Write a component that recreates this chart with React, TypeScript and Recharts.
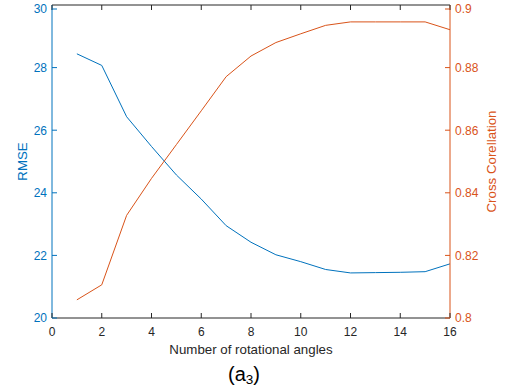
import React from 'react';
import { LineChart, Line, XAxis, YAxis, Label } from 'recharts';

const angles = [1, 2, 3, 4, 5, 6, 7, 8, 9, 10, 11, 12, 13, 14, 15, 16];
const rmse = [28.44, 28.07, 26.43, 25.48, 24.57, 23.8, 22.95, 22.42, 22.02, 21.8, 21.55, 21.44, 21.45, 21.46, 21.48, 21.73];
const crossCorr = [0.8058, 0.8106, 0.8328, 0.8446, 0.8554, 0.8662, 0.8771, 0.8837, 0.888, 0.8908, 0.8935, 0.8946, 0.8946, 0.8946, 0.8946, 0.8921];
const xTicks = [0, 2, 4, 6, 8, 10, 12, 14, 16];
const leftTicks = [20, 22, 24, 26, 28, 30];
const rightTicks = [0.8, 0.82, 0.84, 0.86, 0.88, 0.9];

const data = angles.map((a, i) => ({ a, rmse: rmse[i], cc: crossCorr[i] }));

const BLUE = '#0072BD';
const ORANGE = '#D95319';
const DARK = '#262626';
const FONT = '"Liberation Sans", Arial, Helvetica, sans-serif';

const LeftTick = (p: any) => (
  <g>
    <line x1={p.x} y1={p.y} x2={p.x + 5} y2={p.y} stroke={BLUE} strokeWidth={1} />
    <text x={p.x - 5} y={p.y} dy="0.36em" textAnchor="end" fill={BLUE} fontSize={12} fontFamily={FONT}>
      {p.payload.value}
    </text>
  </g>
);

const RightTick = (p: any) => (
  <g>
    <line x1={p.x} y1={p.y} x2={p.x - 5} y2={p.y} stroke={ORANGE} strokeWidth={1} />
    <text x={p.x + 5} y={p.y} dy="0.36em" textAnchor="start" fill={ORANGE} fontSize={12} fontFamily={FONT}>
      {String(p.payload.value)}
    </text>
  </g>
);

const BottomTick = (p: any) => (
  <g>
    <line x1={p.x} y1={p.y} x2={p.x} y2={p.y - 5} stroke={DARK} strokeWidth={1} />
    <text x={p.x} y={p.y + 18} textAnchor="middle" fill={DARK} fontSize={12} fontFamily={FONT}>
      {p.payload.value}
    </text>
  </g>
);

const TopTick = (p: any) => (
  <g>
    <line x1={p.x} y1={p.y} x2={p.x} y2={p.y + 5} stroke={DARK} strokeWidth={1} />
  </g>
);

export default function App() {
  return (
    <div style={{ position: 'absolute', left: 0, top: 0, width: 512, height: 392, background: '#fff' }}>
      <LineChart width={512} height={392} data={data} margin={{ top: 0, right: 0, bottom: 0, left: 0 }}>
        <XAxis
          xAxisId="top"
          orientation="top"
          dataKey="a"
          type="number"
          domain={[0, 16]}
          ticks={xTicks}
          height={5}
          tickSize={0}
          tickMargin={0}
          tickLine={false}
          tick={<TopTick />}
          axisLine={{ stroke: DARK }}
          allowDataOverflow
        />
        <XAxis
          xAxisId="b"
          orientation="bottom"
          dataKey="a"
          type="number"
          domain={[0, 16]}
          ticks={xTicks}
          height={74}
          tickSize={0}
          tickMargin={0}
          tickLine={false}
          tick={<BottomTick />}
          axisLine={{ stroke: DARK }}
          allowDataOverflow
        >
          <Label
            content={(props: any) => {
              const vb = props.viewBox;
              return (
                <text x={vb.x + vb.width / 2} y={vb.y + 36} textAnchor="middle" fill={DARK} fontSize={13.3} fontFamily={FONT}>
                  Number of rotational angles
                </text>
              );
            }}
          />
          <Label
            content={(props: any) => {
              const vb = props.viewBox;
              return (
                <text x={vb.x + vb.width / 2 - 7} y={vb.y + 63} textAnchor="middle" fill="#000" fontSize={20} fontFamily={FONT}>
                  (a<tspan fontSize={13.5} dy={3}>3</tspan><tspan dy={-3}>)</tspan>
                </text>
              );
            }}
          />
        </XAxis>
        <YAxis
          yAxisId="l"
          orientation="left"
          domain={[20, 30]}
          ticks={leftTicks}
          width={52}
          tickSize={0}
          tickMargin={0}
          tickLine={false}
          tick={<LeftTick />}
          axisLine={{ stroke: BLUE }}
          allowDataOverflow
        >
          <Label
            content={(props: any) => {
              const vb = props.viewBox;
              const cx = 27;
              const cy = vb.y + vb.height / 2;
              return (
                <text x={cx} y={cy} transform={`rotate(-90 ${cx} ${cy})`} textAnchor="middle" fill={BLUE} fontSize={13.3} fontFamily={FONT}>
                  RMSE
                </text>
              );
            }}
          />
        </YAxis>
        <YAxis
          yAxisId="r"
          orientation="right"
          domain={[0.8, 0.9]}
          ticks={rightTicks}
          width={62}
          tickSize={0}
          tickMargin={0}
          tickLine={false}
          tick={<RightTick />}
          axisLine={{ stroke: ORANGE }}
          allowDataOverflow
        >
          <Label
            content={(props: any) => {
              const vb = props.viewBox;
              const cx = 496;
              const cy = vb.y + vb.height / 2;
              return (
                <text x={cx} y={cy} transform={`rotate(-90 ${cx} ${cy})`} textAnchor="middle" fill={ORANGE} fontSize={13.3} fontFamily={FONT}>
                  Cross Corellation
                </text>
              );
            }}
          />
        </YAxis>
        <Line xAxisId="b" yAxisId="l" type="linear" dataKey="rmse" stroke={BLUE} strokeWidth={1} dot={false} isAnimationActive={false} />
        <Line xAxisId="b" yAxisId="r" type="linear" dataKey="cc" stroke={ORANGE} strokeWidth={1} dot={false} isAnimationActive={false} />
      </LineChart>
    </div>
  );
}
